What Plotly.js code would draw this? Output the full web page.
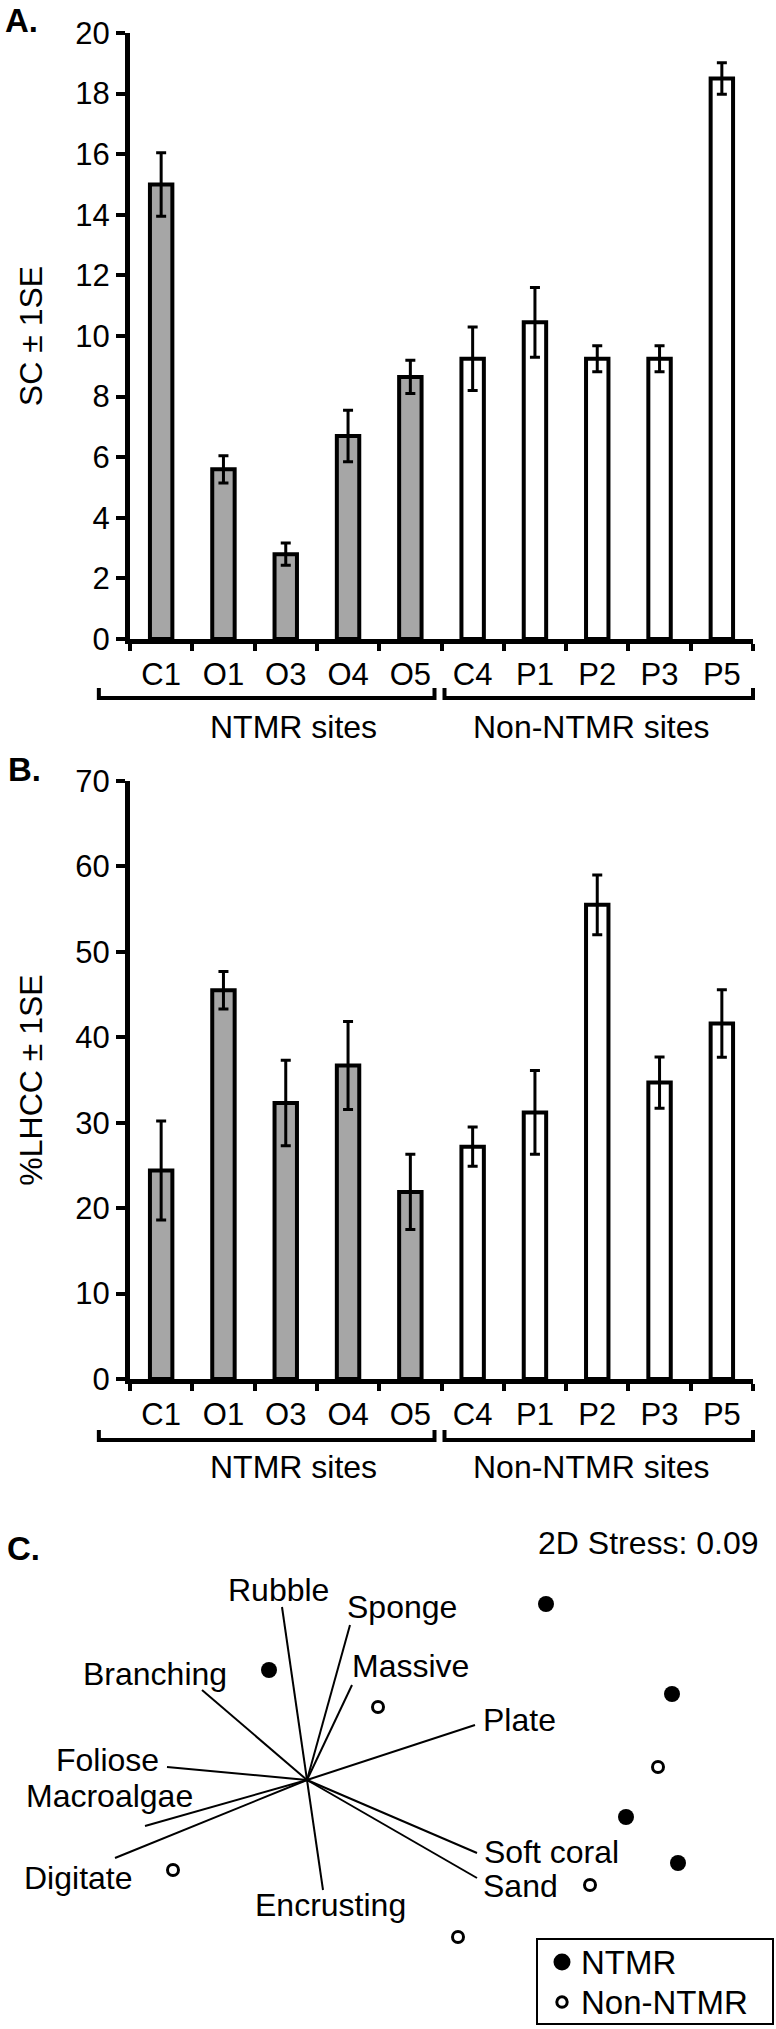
<!DOCTYPE html>
<html>
<head>
<meta charset="utf-8">
<script src="https://cdn.plot.ly/plotly-3.0.1.min.js"></script>
<style>html,body{margin:0;padding:0;background:#fff;}#chart{width:776px;height:2029px;}</style>
</head>
<body>
<div id="chart"></div>
<script>
// ---------------- DATA ----------------
const sites = ['C1','O1','O3','O4','O5','C4','P1','P2','P3','P5'];
const ntmrSites = ['C1','O1','O3','O4','O5'];
const nonNtmrSites = ['C4','P1','P2','P3','P5'];

// Panel A: SC +/- 1SE
const scNtmr   = [15.0, 5.6, 2.8, 6.7, 8.65];
const scNtmrSE = [1.05, 0.45, 0.37, 0.85, 0.55];
const scNon    = [9.25, 10.45, 9.25, 9.25, 18.5];
const scNonSE  = [1.05, 1.15, 0.43, 0.43, 0.52];

// Panel B: %LHCC +/- 1SE
const lhccNtmr   = [24.4, 45.5, 32.3, 36.7, 21.9];
const lhccNtmrSE = [5.8, 2.2, 5.0, 5.15, 4.4];
const lhccNon    = [27.2, 31.2, 55.5, 34.7, 41.6];
const lhccNonSE  = [2.3, 4.9, 3.5, 3.0, 3.95];

const groupLabels = ['NTMR sites', 'Non-NTMR sites'];
const legendNames = ['NTMR', 'Non-NTMR'];

// Panel C: NMDS ordination
const ntmrX = [-0.38, 2.39, 3.65, 3.19, 3.71];
const ntmrY = [1.10, 1.76, 0.86, -0.37, -0.83];
const nonX  = [0.71, 3.51, 2.83, 1.51, -1.34];
const nonY  = [0.73, 0.13, -1.05, -1.57, -0.90];

const vecNames = ['Rubble','Sponge','Massive','Branching','Plate','Foliose','Macroalgae','Digitate','Encrusting','Soft coral','Sand'];
const vecX = [-0.25, 0.43, 0.45, -1.05, 1.68, -1.40, -1.62, -1.92, 0.16, 1.70, 1.70];
const vecY = [1.73, 1.55, 0.95, 0.90, 0.55, 0.13, -0.46, -0.78, -1.10, -0.73, -0.98];
const stressText = '2D Stress: 0.09';

// ---------------- LAYOUT HELPERS ----------------
const W = 776, H = 2029;
const px = v => v / W;
const py = v => 1 - v / H;
const FONT = 'Liberation Sans, Arial, sans-serif';

// label offsets (pixels) from vector tips
const vecLabelShift = {
  'Rubble': [-4, -17], 'Sponge': [52, -18], 'Massive': [58, -19], 'Branching': [-47, -16],
  'Plate': [44, -5], 'Foliose': [-60, -7], 'Macroalgae': [-36, -30], 'Digitate': [-37, 20],
  'Encrusting': [7, 15], 'Soft coral': [74, -1], 'Sand': [43, 8]
};

const GRAY = '#a6a6a6';
function barTrace(name, x, y, se, fill, xa, ya) {
  return {
    type: 'bar', name: name, x: x, y: y, xaxis: xa, yaxis: ya, showlegend: false,
    marker: {color: fill, line: {color: '#000', width: 4}},
    error_y: {type: 'data', array: se, visible: true, color: '#000', thickness: 3, width: 5},
    hoverinfo: 'skip'
  };
}

const traces = [
  barTrace(legendNames[0], ntmrSites, scNtmr, scNtmrSE, GRAY, 'x', 'y'),
  barTrace(legendNames[1], nonNtmrSites, scNon, scNonSE, '#ffffff', 'x', 'y'),
  barTrace(legendNames[0], ntmrSites, lhccNtmr, lhccNtmrSE, GRAY, 'x2', 'y2'),
  barTrace(legendNames[1], nonNtmrSites, lhccNon, lhccNonSE, '#ffffff', 'x2', 'y2')
];

// vectors
const vlx = [], vly = [];
vecNames.forEach((n, i) => { vlx.push(0, vecX[i], null); vly.push(0, vecY[i], null); });
traces.push({type: 'scatter', mode: 'lines', x: vlx, y: vly, xaxis: 'x3', yaxis: 'y3',
  line: {color: '#000', width: 2}, showlegend: false, hoverinfo: 'skip'});
traces.push({type: 'scatter', mode: 'markers', name: legendNames[0], x: ntmrX, y: ntmrY, xaxis: 'x3', yaxis: 'y3',
  marker: {symbol: 'circle', size: 16, color: '#000'}, showlegend: false});
traces.push({type: 'scatter', mode: 'markers', name: legendNames[1], x: nonX, y: nonY, xaxis: 'x3', yaxis: 'y3',
  marker: {symbol: 'circle-open', size: 11, color: '#000', line: {width: 3, color: '#000'}}, showlegend: false});

// axes geometry (pixels)
const axL = 130, axR = 753;
const A = {top: 33, bot: 639}, B = {top: 781, bot: 1379};

function yAxis(range, dtick, title, dom, anchor) {
  return {
    domain: [py(dom.bot), py(dom.top)], range: range, dtick: dtick, anchor: anchor,
    showgrid: false, zeroline: false, showline: true, linewidth: 5, linecolor: '#000',
    ticks: 'outside', ticklen: 9, tickwidth: 4, tickcolor: '#000',
    tickfont: {size: 31, color: '#000', family: FONT},
    title: {text: title, font: {size: 32, color: '#000', family: FONT}, standoff: 25},
    fixedrange: true
  };
}
function xAxis(anchor) {
  return {
    domain: [px(axL), px(axR)], type: 'category', categoryorder: 'array', categoryarray: sites,
    range: [-0.5, 9.5], anchor: anchor, tickson: 'boundaries',
    showgrid: false, zeroline: false, showline: true, linewidth: 5, linecolor: '#000',
    ticks: 'outside', ticklen: 7, tickwidth: 4, tickcolor: '#000',
    tickfont: {size: 31, color: '#000', family: FONT}, ticklabelstandoff: 4,
    fixedrange: true
  };
}

const catW = (axR - axL) / sites.length;
const catPx = i => axL + (i + 0.5) * catW;

const shapes = [], annotations = [];
const txt = (x, y, t, size, anchor) => annotations.push({xref: 'paper', yref: 'paper', x: px(x), y: py(y), text: t,
  showarrow: false, xanchor: anchor || 'center', yanchor: 'middle', font: {size: size, color: '#000', family: FONT}});

// group brackets
function bracket(x0, x1, yLine) {
  shapes.push({type: 'path', xref: 'paper', yref: 'paper',
    path: `M ${px(x0)},${py(yLine - 10)} L ${px(x0)},${py(yLine)} L ${px(x1)},${py(yLine)} L ${px(x1)},${py(yLine - 10)}`,
    line: {color: '#000', width: 4}});
}
[[698, 727], [1440, 1467]].forEach(([yb, yt]) => {
  bracket(catPx(-1), catPx(4) + catW / 2 - 7, yb);
  bracket(catPx(5) - catW / 2 + 3, catPx(9) + catW / 2, yb);
  txt(293, yt, groupLabels[0], 32);
  txt(591, yt, groupLabels[1], 32);
});

// panel letters
[['A.', 21, 20], ['B.', 24, 770], ['C.', 23, 1548]].forEach(([t, x, y]) => txt(x, y, '<b>' + t + '</b>', 33));

// stress
txt(648, 1543, stressText, 32);

// vector labels
vecNames.forEach((n, i) => {
  const s = vecLabelShift[n];
  annotations.push({xref: 'x3', yref: 'y3', x: vecX[i], y: vecY[i], text: n, showarrow: false,
    xanchor: 'center', yanchor: 'middle', xshift: s[0], yshift: -s[1],
    font: {size: 32, color: '#000', family: FONT}});
});

// legend box (drawn manually for exact spacing)
shapes.push({type: 'rect', xref: 'paper', yref: 'paper', x0: px(537), x1: px(773), y0: py(2024), y1: py(1939),
  line: {color: '#000', width: 2}, fillcolor: '#fff', layer: 'below'});
shapes.push({type: 'circle', xref: 'paper', yref: 'paper', x0: px(562 - 8.5), x1: px(562 + 8.5), y0: py(1962 + 8.5), y1: py(1962 - 8.5),
  line: {color: '#000', width: 0}, fillcolor: '#000'});
shapes.push({type: 'circle', xref: 'paper', yref: 'paper', x0: px(562 - 5.2), x1: px(562 + 5.2), y0: py(2002 + 5.2), y1: py(2002 - 5.2),
  line: {color: '#000', width: 3}, fillcolor: 'rgba(0,0,0,0)'});
txt(579, 1962, legendNames[0], 33, 'left');
txt(579, 2002, legendNames[1], 33, 'left');

// panel C axes: 100 px per unit, origin at (307, 1780)
const cTop = 1500;
const layout = {
  width: W, height: H, margin: {l: 0, r: 0, t: 0, b: 0, autoexpand: false},
  paper_bgcolor: '#fff', plot_bgcolor: 'rgba(0,0,0,0)',
  font: {family: FONT, color: '#000'},
  barmode: 'overlay', bargap: 0.64,
  xaxis: xAxis('y'), yaxis: yAxis([0, 20], 2, 'SC ± 1SE', A, 'x'),
  xaxis2: xAxis('y2'), yaxis2: yAxis([0, 70], 10, '%LHCC ± 1SE', B, 'x2'),
  xaxis3: {domain: [0, 1], range: [-3.07, 4.69], visible: false, anchor: 'y3', fixedrange: true},
  yaxis3: {domain: [0, py(cTop)], range: [(1780 - H) / 100, (1780 - cTop) / 100], visible: false, anchor: 'x3', fixedrange: true},
  showlegend: false,
  shapes: shapes, annotations: annotations
};

Plotly.newPlot('chart', traces, layout, {staticPlot: true, displayModeBar: false});
</script>
</body>
</html>
